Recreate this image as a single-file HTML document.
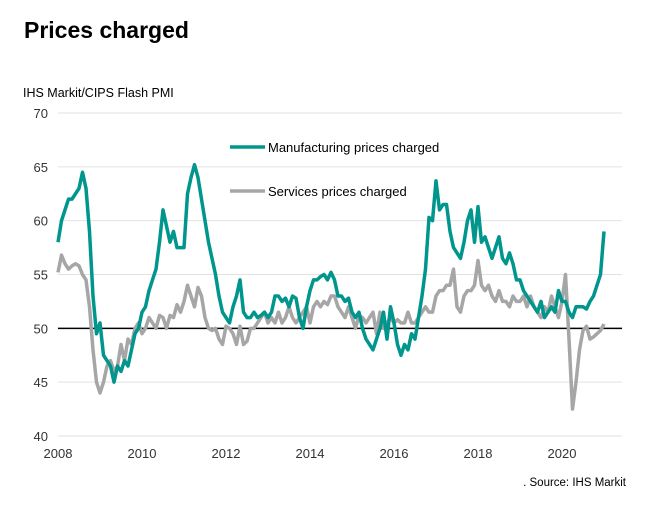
<!DOCTYPE html>
<html><head><meta charset="utf-8"><style>
body{margin:0;background:#fff;font-family:"Liberation Sans",Arial,sans-serif;}
#wrap{position:relative;width:649px;height:510px;overflow:hidden;}
</style></head><body>
<div id="wrap">
<svg id="chart" width="649" height="510"></svg>
</div>
<script>
const yearLabels=["2008","2010","2012","2014","2016","2018","2020"];
const yTicks=[40,45,50,55,60,65,70];
const manufacturing=[
58,60,61,62,62,62.5,63,64.5,63,59,53,49.5,
50.5,47.5,47,46.5,45,46.5,46,47,46.5,48,49.5,50,
51.5,52,53.5,54.5,55.5,58,61,59.5,58,59,57.5,57.5,
57.5,62.5,64,65.2,64,62,60,58,56.5,55,53,51.5,
51,50.5,52,53,54.5,51.5,51,51,51.5,51,51.2,51.5,
51,51.5,53,53,52.5,52.8,52,53,52.8,51,50,52,
53.5,54.5,54.5,54.8,55,54.5,55.2,54.5,53,53,52.5,52.8,
51.5,51,51.5,50,49,48.5,48,49,50,51.5,49,52,
50.5,48.5,47.5,48.5,48,49.5,49,51,53,55.5,60.3,60,
63.7,61,61.5,61.5,59,57.5,57,56.5,58,60,61,58,
61.3,58,58.5,57.5,56.5,57.5,58.5,56.5,56,57,56,54.5,
54.5,53.5,53,52.5,52,51.5,52.5,51,51.5,52,51.5,53.5,
52.5,52.5,51.5,51,52,52,52,51.8,52.5,53,54,55,
59];
const services=[
55.2,56.8,56,55.5,55.8,56,55.8,55,54.5,52,48,45,
44,45,46.5,47,46,46.5,48.5,47,49,48.5,50,50.5,
49.5,50,51,50.5,50,51.2,51,50,51.2,51,52.2,51.5,
52.5,54,53,52,53.8,53,51,50,49.8,50,49,48.5,
50.2,50,49.5,48.5,50.2,48.5,48.8,50,50,50.5,51,51.5,
50.5,51,50.5,51.5,50.5,51,52,51,50.5,51,51.5,52,
50.5,52,52.5,52,52.5,52.2,53,53,52,51.5,51,52,
51,50,51.2,51,50.5,51,51.5,49.5,51.5,50,50.5,51,
50.5,50.8,50.5,50.5,51.5,50.5,50.5,51,51.5,52,51.5,51.5,
53,53.5,53.5,54,54,55.5,52,51.5,53,53.5,53.5,54,
56.3,54,53.5,54,53,52.5,53.5,52.5,52.5,52,53,52.5,
52.5,53,52,53,52,51.5,51,52,51.5,53,52,51,
52.5,55,49,42.5,45,48,49.8,50.2,49,49.2,49.5,49.8,
50.4];
const NS="http://www.w3.org/2000/svg";
const svg=document.getElementById('chart');
const x0=58,monthW=3.5,yTop=113,yBot=436;
function xs(i){return x0+i*monthW;}
function ys(v){return yBot-(v-40)/30*(yBot-yTop);}
function mk(tag,attrs,txt){const e=document.createElementNS(NS,tag);for(const k in attrs)e.setAttribute(k,attrs[k]);if(txt!==undefined)e.textContent=txt;svg.appendChild(e);return e;}
let t=mk('text',{x:24,y:38,'font-size':23,'font-weight':'bold',fill:'#000'},'Prices charged');


t=mk('text',{x:23,y:97,'font-size':12.5,fill:'#000'},'IHS Markit/CIPS Flash PMI');


yTicks.forEach(v=>{
  if(v!==50){const g=mk('line',{x1:x0,x2:622,y1:ys(v),y2:ys(v),stroke:'#e2e2e2','stroke-width':1});
  
  }
  const l=mk('text',{x:48,y:ys(v)+5,'font-size':13,'text-anchor':'end',fill:'#333'},String(v));
  
  
});
yearLabels.forEach((y,k)=>{
  const l=mk('text',{x:xs(k*24),y:458,'font-size':13,'text-anchor':'middle',fill:'#333'},y);
  
  
});
const ref=mk('line',{x1:x0,x2:622,y1:ys(50),y2:ys(50),stroke:'#000','stroke-width':1.5});


function series(arr,color,name){
  const p=mk('polyline',{points:arr.map((v,i)=>xs(i)+','+ys(v)).join(' '),fill:'none',stroke:color,'stroke-width':3.5,'stroke-linejoin':'round'});
  
  
}
series(services,'#a6a6a6','services-line');
series(manufacturing,'#00958d','manufacturing-line');
let lg=mk('line',{x1:230,x2:265,y1:147,y2:147,stroke:'#00958d','stroke-width':3.5});


t=mk('text',{x:268,y:152,'font-size':13,fill:'#000'},'Manufacturing prices charged');


lg=mk('line',{x1:230,x2:265,y1:191,y2:191,stroke:'#a6a6a6','stroke-width':3.5});


t=mk('text',{x:268,y:196,'font-size':13,fill:'#000'},'Services prices charged');


t=mk('text',{x:626,y:486,'font-size':11.5,'text-anchor':'end',fill:'#000'},'. Source: IHS Markit');


</script>
</body></html>
